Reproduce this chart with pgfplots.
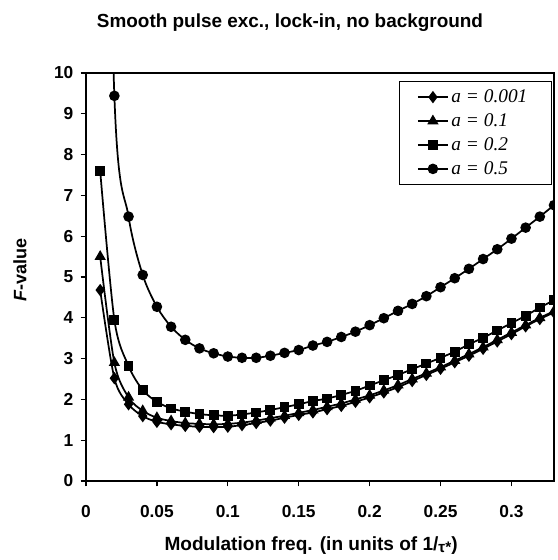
\documentclass[border=0pt]{standalone}
\usepackage{fontspec}
\setmainfont{Liberation Sans}
\newfontfamily\tnr{Liberation Serif}
\usepackage{pgfplots}
\pgfplotsset{compat=1.18}
\usetikzlibrary{calc}

% x: modulation frequency, y: F-value, one column per a
\pgfplotstableread{
x     d     t     s     c
0.01  4.68  5.50  7.60  25.0
0.02  2.52  2.90  3.95  9.44
0.03  1.88  2.05  2.82  6.48
0.04  1.59  1.72  2.23  5.05
0.05  1.45  1.55  1.94  4.27
0.06  1.39  1.47  1.78  3.78
0.07  1.35  1.42  1.70  3.46
0.08  1.33  1.40  1.64  3.25
0.09  1.32  1.39  1.61  3.13
0.10  1.33  1.40  1.60  3.05
0.11  1.37  1.43  1.63  3.02
0.12  1.42  1.48  1.68  3.02
0.13  1.48  1.54  1.74  3.07
0.14  1.55  1.60  1.81  3.14
0.15  1.62  1.67  1.88  3.21
0.16  1.68  1.74  1.96  3.32
0.17  1.76  1.82  2.02  3.41
0.18  1.84  1.90  2.11  3.53
0.19  1.94  2.00  2.21  3.66
0.20  2.05  2.10  2.34  3.82
0.21  2.17  2.22  2.47  3.99
0.22  2.30  2.35  2.60  4.17
0.23  2.45  2.50  2.74  4.34
0.24  2.60  2.64  2.88  4.53
0.25  2.75  2.79  3.02  4.75
0.26  2.91  2.95  3.17  4.97
0.27  3.07  3.11  3.35  5.20
0.28  3.24  3.28  3.51  5.44
0.29  3.42  3.46  3.69  5.68
0.30  3.60  3.64  3.87  5.94
0.31  3.79  3.82  4.05  6.21
0.32  3.97  4.00  4.25  6.48
0.33  4.13  4.16  4.43  6.76
}\datatab

\begin{document}
\begin{tikzpicture}
\begin{axis}[
  name=ax,
  scale only axis,
  width=351pt, height=306pt,
  xmin=0, xmax=0.33, ymin=0, ymax=10,
  xtick={0,0.05,0.1,0.15,0.2,0.25,0.3},
  xticklabels={0,0.05,0.1,0.15,0.2,0.25,0.3},
  ytick={0,1,...,10},
  yticklabels={0,1,2,3,4,5,6,7,8,9,10},
  tick align=outside,
  xtick pos=bottom, ytick pos=left,
  major tick length=4pt,
  axis line style={line width=0.9pt},
  every tick/.style={black, line width=0.9pt},
  xticklabel style={font=\bfseries\fontsize{13}{15}\selectfont, yshift=-10.8pt},
  yticklabel style={font=\bfseries\fontsize{13}{15}\selectfont, xshift=-2pt},
  clip marker paths=true,
  legend style={at={(rel axis cs:0.9957,0.980)}, anchor=north east,
    draw=black, line width=0.8pt, inner xsep=13pt, inner ysep=4pt,
    font=\tnr\itshape\fontsize{14.5}{16}\selectfont,
    nodes={inner sep=2pt}, row sep=2.8pt},
  legend cell align=left,
  legend image code/.code={
    \draw[mark repeat=2,mark phase=2] plot coordinates {(0pt,0pt)(11.25pt,0pt)(22.5pt,0pt)};},
  every axis plot/.append style={black, line width=1.3pt, smooth},
]
\addplot[mark=diamond*, mark size=3.6pt, mark options={solid}] table[x=x,y=d]{\datatab};
\addlegendentry{\makebox[60pt][l]{a = 0.001}}
\addplot[mark=triangle*, mark size=3.6pt, mark options={solid}] table[x=x,y=t]{\datatab};
\addlegendentry{\makebox[60pt][l]{a = 0.1}}
\addplot[mark=square*, mark size=3pt, mark options={solid}] table[x=x,y=s]{\datatab};
\addlegendentry{\makebox[60pt][l]{a = 0.2}}
\addplot[mark=*, mark size=3.3pt, mark options={solid}] table[x=x,y=c]{\datatab};
\addlegendentry{\makebox[60pt][l]{a = 0.5}}
\end{axis}
\node[font=\bfseries\fontsize{14.2}{16}\selectfont] at ($(ax.north west)+(153pt,37.5pt)$)
  {Smooth pulse exc., lock-in, no background};
\node[font=\bfseries\fontsize{14.3}{16}\selectfont] at ($(ax.south west)+(168.8pt,-48.5pt)$)
  {Modulation freq. (in units of 1/{\fontsize{11.5}{13}\selectfont\raisebox{-1.5pt}{τ*}})};
\node[font=\bfseries\fontsize{13.5}{15}\selectfont, rotate=90] at ($(ax.south west)+(-49.5pt,158.3pt)$)
  {\textit{F}-value};
\pgfresetboundingbox
\path[use as bounding box] ($(ax.south west)+(-64.5pt,-59.25pt)$) rectangle ($(ax.north east)+(2.25pt,54.75pt)$);
\end{tikzpicture}
\end{document}
